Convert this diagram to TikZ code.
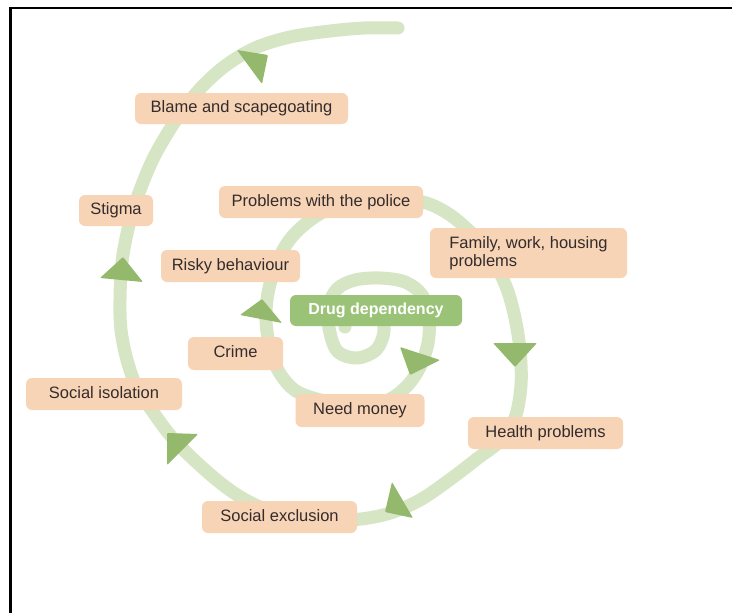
\documentclass[tikz,border=0pt]{standalone}
\usepackage{fontspec}
\setmainfont{Liberation Sans}
\definecolor{boxpeach}{HTML}{F8D4B6}
\definecolor{boxtext}{HTML}{332C2C}
\definecolor{spiralgreen}{HTML}{D6E5C4}
\definecolor{arrowgreen}{HTML}{94B86C}
\definecolor{drugfill}{HTML}{9AC377}
\begin{document}
\begin{tikzpicture}[x=1pt,y=-1pt,
  box/.style={fill=boxpeach, rounded corners=6pt, text=boxtext, inner sep=0pt,
    font=\fontsize{16.5}{18}\selectfont},
  oneline/.style={text height=12pt, text depth=3.5pt},
  drugbox/.style={fill=drugfill, rounded corners=6pt, text=white, inner sep=0pt,
    font=\fontsize{16}{18}\selectfont\bfseries, text height=12pt, text depth=3.5pt},
  spiral/.style={draw=spiralgreen, line width=13pt, line cap=round, line join=round},
  arrowhead/.style={fill=arrowgreen, rounded corners=1pt},
  frameline/.style={draw=black, line width=2.5pt}]
\useasboundingbox (0,0) rectangle (732,613);
\fill[white] (0,0) rectangle (732,613);
% spiral
\draw[spiral] plot[smooth, tension=0.55] coordinates {
 (345,327) (347,309) (362,302) (379,311) (384,331) (376,350) (357,358) (338,352)
 (330,333) (328,308) (337,289) (355,280) (380,278) (405,282) (422,295) (429,318)
 (428,343) (420,367) (407,386) (388,400) (360,405) (325,401) (296,391) (279,372)
 (270,348) (266,320) (268,293) (276,265) (288,242) (304,225) (325,211) (353,202)
 (385,199) (412,200) (432,205) (453,217) (475,237) (494,262) (507,289) (515,318)
 (520,350) (521,385) (515,418) (500,441) (478,458) (452,478) (420,500) (387,514)
 (350,520) (305,519) (268,510) (242,498) (218,481) (192,458) (170,435) (153,412)
 (137,388) (127,360) (121,330) (120,300) (122,262) (129,225) (140,190) (155,155)
 (176,120) (199,90) (225,66) (255,48) (290,37) (330,31) (365,28) (398,28)};
% arrowheads
\fill[arrowhead] (237,50) -- (268,55) -- (262,84) -- cycle;
\fill[arrowhead] (123,257) -- (100,278) -- (143,282) -- cycle;
\fill[arrowhead] (167,433) -- (198,434) -- (167,465) -- cycle;
\fill[arrowhead] (392,482) -- (385,512) -- (413,518) -- cycle;
\fill[arrowhead] (493,343) -- (537,343) -- (515,367) -- cycle;
\fill[arrowhead] (400,347) -- (440,360) -- (410,375) -- cycle;
\fill[arrowhead] (240,315) -- (262,299) -- (282,323) -- cycle;
% boxes
\node[box, oneline, minimum width=213pt, minimum height=31pt] (blame) at (241.5,108.5) {Blame and scapegoating};
\node[box, oneline, minimum width=74pt, minimum height=31pt] (stigma) at (116,210.5) {Stigma};
\node[box, oneline, minimum width=204pt, minimum height=32pt] (police) at (321,202) {Problems with the police};
\node[box, minimum width=197pt, minimum height=50pt, align=left] (family) at (528.5,253) {Family, work, housing\\problems};
\node[box, oneline, minimum width=139pt, minimum height=32pt] (risky) at (230.5,266) {Risky behaviour};
\node[drugbox, minimum width=172pt, minimum height=31pt] (drug) at (376,310.5) {Drug dependency};
\node[box, oneline, minimum width=95pt, minimum height=33pt] (crime) at (235.5,353.5) {Crime};
\node[box, oneline, minimum width=156pt, minimum height=32pt] (isolation) at (104,394) {Social isolation};
\node[box, oneline, minimum width=129pt, minimum height=33pt] (money) at (360,410.5) {Need money};
\node[box, oneline, minimum width=155pt, minimum height=32pt] (health) at (545.5,433) {Health problems};
\node[box, oneline, minimum width=155pt, minimum height=32pt] (exclusion) at (279.5,517) {Social exclusion};
% frame
\draw[frameline] (10.5,613) -- (10.5,8) -- (732,8);
\end{tikzpicture}
\end{document}
